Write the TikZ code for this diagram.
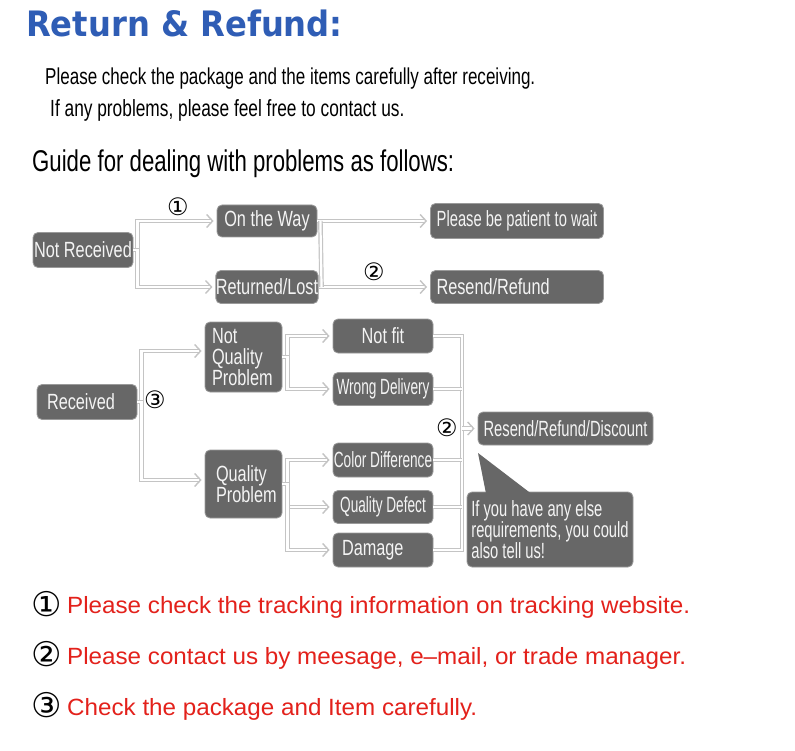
\documentclass[tikz,border=0pt]{standalone}
\usepackage{fontspec}
\usepackage{xcolor}
\usetikzlibrary{arrows.meta}
\setmainfont{Liberation Sans}
\newfontfamily\narrowfont[FakeStretch=0.74]{Liberation Sans}
\newfontfamily\narrowerfont[FakeStretch=0.67]{Liberation Sans}
\newfontfamily\narrowestfont[FakeStretch=0.62]{Liberation Sans}
\newfontfamily\titlefont[FakeStretch=0.92]{DejaVu Sans}
\newfontfamily\notefont[FakeStretch=1.03]{Liberation Sans}
\newfontfamily\circfont{DejaVu Sans}

\definecolor{boxgray}{HTML}{676767}
\definecolor{boxedge}{HTML}{9A9A9A}
\definecolor{boxtext}{HTML}{F4F4F4}
\definecolor{linkgray}{HTML}{C4C4C4}
\definecolor{titleblue}{HTML}{2F5DB5}
\definecolor{notered}{HTML}{E3211B}

\tikzset{
  box/.style={rounded corners=5pt, fill=boxgray, draw=boxedge, line width=0.8pt,
              text=boxtext, inner sep=0pt, align=center,
              font=\narrowfont\fontsize{22}{21}\selectfont},
  tightbox/.style={box, font=\narrowerfont\fontsize{22}{21}\selectfont},
  tighterbox/.style={box, font=\narrowestfont\fontsize{22}{21}\selectfont},
  link/.style={draw=linkgray, double=white, double distance=2.2pt, line width=1.2pt},
  arr/.style={-{Straight Barb[length=6pt,width=13pt,line width=1.4pt]}, shorten >=3pt},
  circnum/.style={font=\circfont\fontsize{24}{24}\selectfont, inner sep=0pt},
  bignum/.style={font=\circfont\fontsize{34}{34}\selectfont, inner sep=0pt},
  note/.style={anchor=base west, inner sep=0pt, text=notered, font=\notefont\fontsize{23.5}{24}\selectfont}
}

\begin{document}
\begin{tikzpicture}[x=1pt,y=-1pt]
    \useasboundingbox (0,0) rectangle (795,751);
    \fill[white] (0,0) rectangle (795,751);

    %% heading
    \node[anchor=base west, inner sep=0pt, text=titleblue, font=\titlefont\bfseries\fontsize{35}{36}\selectfont]
        (title) at (26,37) {Return \& Refund:};
    \node[anchor=base west, inner sep=0pt, font=\narrowfont\fontsize{23}{24}\selectfont]
        (intro1) at (45,85) {Please check the package and the items carefully after receiving.};
    \node[anchor=base west, inner sep=0pt, font=\narrowfont\fontsize{23.4}{24}\selectfont]
        (intro2) at (50,117) {If any problems, please feel free to contact us.};
    \node[anchor=base west, inner sep=0pt, font=\narrowfont\fontsize{30}{32}\selectfont]
        (guide) at (32,172) {Guide for dealing with problems as follows:};

    %% not received
    \node[box, minimum width=100pt, minimum height=35pt] (notrec) at (83,250) {Not Received};
    \node[box, minimum width=100pt, minimum height=32pt] (onway) at (267,221) {On the Way};
    \node[box, minimum width=100pt, minimum height=33pt] (retlost) at (267,287) {Returned/Lost};
    \node[tightbox, minimum width=173pt, minimum height=35pt] (patient) at (517,221) {Please be patient to wait};
    \node[box, minimum width=173pt, minimum height=33pt, text width=161pt, align=left] (resref) at (517,287) {Resend/Refund};

    \node[circnum] (one) at (178,207) {①};
    \node[circnum] (twoa) at (374,272) {②};

    \draw[link,arr] (notrec.east) -- ++(4,0) |- (onway.west);
    \draw[link,arr] (notrec.east) -- ++(4,0) |- (retlost.west);
    \draw[link,arr] (onway.east) -- (patient.west);
    \draw[link,arr] (retlost.east) -- (resref.west);
    \draw[link] ([xshift=3pt]onway.east) -- ([xshift=3pt]retlost.east);

    %% received
    \node[box, minimum width=100pt, minimum height=35pt, text width=80pt, align=left] (rec) at (87,402) {Received};
    \node[circnum] (three) at (155,400) {③};

    \node[box, minimum width=77pt, minimum height=70pt, text width=63pt, align=left] (nqp) at (243.5,357) {Not\\Quality\\Problem};
    \node[box, minimum width=77pt, minimum height=68pt, text width=55pt, align=left] (qp) at (243.5,484) {Quality\\Problem};

    \node[box, minimum width=100pt, minimum height=34pt] (notfit) at (383,336) {Not fit};
    \node[tighterbox, minimum width=100pt, minimum height=33pt] (wrong) at (383,389) {Wrong Delivery};
    \node[tighterbox, minimum width=100pt, minimum height=34pt] (color) at (383,460) {Color Difference};
    \node[tighterbox, minimum width=100pt, minimum height=33pt] (defect) at (383,507) {Quality Defect};
    \node[box, minimum width=100pt, minimum height=34pt, text width=82pt, align=left] (damage) at (383,550) {Damage};

    \node[tightbox, minimum width=175pt, minimum height=33pt] (resdis) at (565.5,428.5) {Resend/Refund/Discount};
    \node[circnum] (twob) at (447,428) {②};

    \draw[link,arr] (rec.east) -- ++(4,0) |- ([yshift=6pt]nqp.west);
    \draw[link,arr] (rec.east) -- ++(4,0) |- ([yshift=4pt]qp.west);

    \draw[link,arr] (nqp.east) -- ++(5,0) |- (notfit.west);
    \draw[link,arr] (nqp.east) -- ++(5,0) |- (wrong.west);
    \draw[link,arr] (qp.east) -- ++(5,0) |- (color.west);
    \draw[link,arr] (qp.east) -- ++(5,0) |- (defect.west);
    \draw[link,arr] (qp.east) -- ++(5,0) |- (damage.west);

    \coordinate (bus) at (462,428.5);
    \draw[link] (notfit.east) -| (bus |- damage.east) -- (damage.east);
    \draw[link] (wrong.east) -- (bus |- wrong.east);
    \draw[link] (color.east) -- (bus |- color.east);
    \draw[link] (defect.east) -- (bus |- defect.east);
    \draw[link,arr] (bus) -- (resdis.west);

    %% callout
    \node[tightbox, minimum width=166pt, minimum height=75pt, align=left] (tell) at (550,529.5)
          {If you have any else\\requirements, you could\\also tell us!};
    \fill[boxgray] (478,453) -- (486,493.5) -- (531,493.5) -- cycle;

    %% notes
    \node[bignum] (num1) at (47,604) {①};
    \node[note] (note1) at (67,613) {Please check the tracking information on tracking website.};
    \node[bignum] (num2) at (47,654) {②};
    \node[note] (note2) at (67,664) {Please contact us by meesage, e–mail, or trade manager.};
    \node[bignum] (num3) at (47,705) {③};
    \node[note] (note3) at (67,715) {Check the package and Item carefully.};
\end{tikzpicture}
\end{document}
